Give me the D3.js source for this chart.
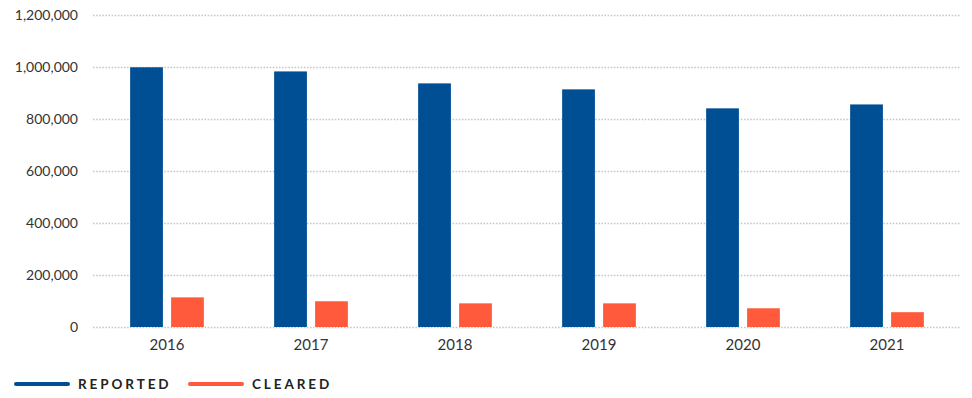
<!DOCTYPE html>
<html>
<head>
<meta charset="utf-8">
<script src="https://cdn.jsdelivr.net/npm/d3@7"></script>
<style>
  html, body { margin: 0; padding: 0; background: #fff; }
  svg { display: block; font-family: "Lato", "Noto Sans", sans-serif; }
</style>
</head>
<body>
<svg id="chart" width="972" height="398"></svg>
<script>
// Reports vs. clearances per year
const years = ["2016", "2017", "2018", "2019", "2020", "2021"];
const reported = [999000, 983000, 937000, 914000, 841000, 856000];
const cleared = [114000, 99000, 91000, 91000, 72000, 57000];
const seriesNames = ["REPORTED", "CLEARED"];
const seriesColors = ["#004f95", "#ff5a3c"];
const yTicks = [0, 200000, 400000, 600000, 800000, 1000000, 1200000];

const svg = d3.select("#chart");
const margin = { top: 15, right: 12, bottom: 71, left: 93 };
const width = 972, height = 398;

const rows = years.map((y, i) => ({ year: y, values: [reported[i], cleared[i]] }));

const x0 = d3.scaleBand()
  .domain(years)
  .range([95, 959])
  .paddingInner(0.488)
  .paddingOuter(0.244);

const x1 = d3.scaleBand()
  .domain(seriesNames)
  .range([0, x0.bandwidth()])
  .paddingInner(0.2);

const y = d3.scaleLinear()
  .domain([0, 1200000])
  .range([height - margin.bottom, margin.top]);

// dotted horizontal grid
svg.append("g")
  .selectAll("line")
  .data(yTicks)
  .join("line")
  .attr("x1", margin.left)
  .attr("x2", width - margin.right)
  .attr("y1", d => y(d) + 0.5)
  .attr("y2", d => y(d) + 0.5)
  .attr("stroke", "#c4c4c4")
  .attr("stroke-width", 1.5)
  .attr("stroke-dasharray", "1.5,1.6");

// y axis labels
const yAxis = d3.axisLeft(y)
  .tickValues(yTicks)
  .tickFormat(d3.format(","))
  .tickSize(0)
  .tickPadding(15);

svg.append("g")
  .attr("transform", `translate(${margin.left},0)`)
  .call(yAxis)
  .call(g => g.select(".domain").remove())
  .call(g => g.selectAll("text")
    .attr("fill", "#333")
    .style("font-size", "14px")
    .style("font-family", "Lato, 'Noto Sans', sans-serif"));

// bars
const groups = svg.append("g")
  .selectAll("g")
  .data(rows)
  .join("g")
  .attr("transform", d => `translate(${x0(d.year)},0)`);

groups.selectAll("rect")
  .data(d => d.values.map((v, i) => ({ key: seriesNames[i], value: v, i })))
  .join("rect")
  .attr("x", d => x1(d.key))
  .attr("width", x1.bandwidth())
  .attr("y", d => y(d.value))
  .attr("height", d => y(0) - y(d.value))
  .attr("fill", d => seriesColors[d.i]);

// x axis labels
const xAxis = d3.axisBottom(x0).tickSize(0).tickPadding(12);
svg.append("g")
  .attr("transform", `translate(0,${y(0)})`)
  .call(xAxis)
  .call(g => g.select(".domain").remove())
  .call(g => g.selectAll("text")
    .attr("fill", "#333")
    .style("font-size", "15px")
    .style("font-family", "Lato, 'Noto Sans', sans-serif"));

// legend
const legendItems = [
  { name: seriesNames[0], color: seriesColors[0], x: 16 },
  { name: seriesNames[1], color: seriesColors[1], x: 190 }
];
const legend = svg.append("g").attr("transform", "translate(0,384)");
const li = legend.selectAll("g")
  .data(legendItems)
  .join("g")
  .attr("transform", d => `translate(${d.x},0)`);
li.append("line")
  .attr("x1", 0).attr("x2", 52)
  .attr("y1", 0).attr("y2", 0)
  .attr("stroke", d => d.color)
  .attr("stroke-width", 4)
  .attr("stroke-linecap", "round");
li.append("text")
  .attr("x", 62)
  .attr("y", 0)
  .attr("dy", "0.36em")
  .attr("fill", "#222")
  .style("font-size", "13.5px")
  .style("font-weight", "bold")
  .style("letter-spacing", "2.9px")
  .text(d => d.name);
</script>
</body>
</html>
